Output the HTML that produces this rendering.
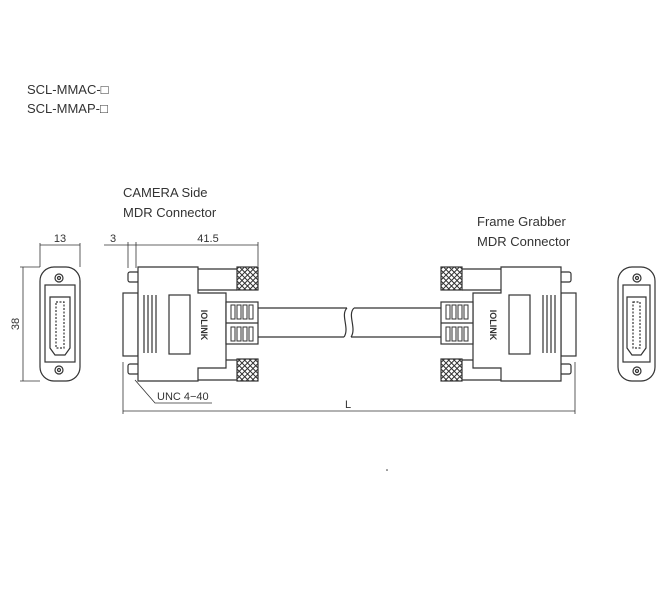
<!DOCTYPE html>
<html><head><style>
html,body{margin:0;padding:0;background:#fff;}
svg{display:block}
text{font-family:"Liberation Sans",sans-serif;fill:#333;}
</style></head><body>
<svg width="671" height="600" viewBox="0 0 671 600" xmlns="http://www.w3.org/2000/svg">
<defs>
<pattern id="kn" width="5.5" height="5.5" patternUnits="userSpaceOnUse">
<path d="M0,0L5.5,5.5M5.5,0L0,5.5" stroke="#333" stroke-width="1"/>
</pattern>
<g id="conn" fill="#fff" stroke="#333" stroke-width="1.2">
  <line x1="198" y1="269" x2="237" y2="269"/><line x1="198" y1="290" x2="237" y2="290"/>
  <line x1="198" y1="360" x2="237" y2="360"/><line x1="198" y1="380" x2="237" y2="380"/>
  <rect x="237" y="267" width="21" height="23" fill="url(#kn)"/>
  <rect x="237" y="359" width="21" height="22" fill="url(#kn)"/>
  <rect x="128" y="272" width="11" height="10" rx="2"/>
  <rect x="128" y="364" width="11" height="10" rx="2"/>
  <rect x="123" y="293" width="15" height="63"/>
  <path d="M138,267H198V293H226V368H198V381H138Z"/>
  <line x1="144" y1="295" x2="144" y2="353"/><line x1="148" y1="295" x2="148" y2="353"/>
  <line x1="152" y1="295" x2="152" y2="353"/><line x1="156" y1="295" x2="156" y2="353"/>
  <rect x="169" y="295" width="21" height="59"/>
  <rect x="226" y="302" width="32" height="42"/>
  <line x1="226" y1="323" x2="258" y2="323"/>
  <g stroke-width="1">
  <rect x="231" y="305" width="4" height="14"/><rect x="237" y="305" width="4" height="14"/><rect x="243" y="305" width="4" height="14"/><rect x="249" y="305" width="4" height="14"/>
  <rect x="231" y="327" width="4" height="14"/><rect x="237" y="327" width="4" height="14"/><rect x="243" y="327" width="4" height="14"/><rect x="249" y="327" width="4" height="14"/>
  </g>
</g>
</defs>

<text x="27" y="94" font-size="13">SCL-MMAC-□</text>
<text x="27" y="113" font-size="13">SCL-MMAP-□</text>
<text x="123" y="197" font-size="13">CAMERA Side</text>
<text x="123" y="217" font-size="13">MDR Connector</text>
<text x="477" y="226" font-size="13">Frame Grabber</text>
<text x="477" y="246" font-size="13">MDR Connector</text>

<g stroke="#333" stroke-width="1.2" fill="none">
<line x1="258" y1="308" x2="347" y2="308"/><line x1="258" y1="337" x2="344" y2="337"/>
<path d="M347,308C340,315 350,328 344,337"/>
<path d="M354,308C347,315 357,328 351,337"/>
<line x1="354" y1="308" x2="441" y2="308"/><line x1="351" y1="337" x2="441" y2="337"/>
</g>

<use href="#conn"/>
<use href="#conn" transform="translate(699,0) scale(-1,1)"/>
<text transform="translate(201,325) rotate(90)" font-size="9" font-weight="bold" text-anchor="middle">IOLINK</text>
<text transform="translate(490,325) rotate(90)" font-size="9" font-weight="bold" text-anchor="middle">IOLINK</text>

<g fill="#fff" stroke="#333" stroke-width="1.2">
<rect x="40" y="267" width="40" height="114" rx="14"/>
<rect x="45" y="285" width="30" height="77"/>
<path d="M50,297H70V348L65,355H55L50,348Z"/>
<rect x="56" y="302" width="8" height="46" stroke-dasharray="2,1.5"/>
<circle cx="59" cy="278" r="4"/><circle cx="59" cy="278" r="1.5"/>
<circle cx="59" cy="370" r="4"/><circle cx="59" cy="370" r="1.5"/>

<rect x="618" y="267" width="37" height="114" rx="14"/>
<rect x="623" y="285" width="27" height="77"/>
<path d="M627,297H646V348L641,355H632L627,348Z"/>
<rect x="633" y="302" width="7" height="46" stroke-dasharray="2,1.5"/>
<circle cx="637" cy="278" r="4"/><circle cx="637" cy="278" r="1.5"/>
<circle cx="637" cy="371" r="4"/><circle cx="637" cy="371" r="1.5"/>
</g>

<g stroke="#333" stroke-width="0.8" fill="none">
<line x1="40" y1="243" x2="40" y2="267"/><line x1="80" y1="243" x2="80" y2="267"/>
<line x1="40" y1="245" x2="80" y2="245"/>
<line x1="20" y1="267" x2="40" y2="267"/><line x1="20" y1="381" x2="40" y2="381"/>
<line x1="23" y1="267" x2="23" y2="381"/>
<line x1="128" y1="242" x2="128" y2="268"/><line x1="136" y1="242" x2="136" y2="268"/><line x1="258" y1="242" x2="258" y2="266"/>
<line x1="104" y1="245" x2="258" y2="245"/>
<line x1="123" y1="362" x2="123" y2="414"/><line x1="575" y1="362" x2="575" y2="414"/>
<line x1="123" y1="411" x2="575" y2="411"/>
<polyline points="135,380 155,403 212,403"/>
</g>
<text x="60" y="242" font-size="11" text-anchor="middle">13</text>
<text transform="translate(19,324) rotate(-90)" font-size="11" text-anchor="middle">38</text>
<text x="113" y="242" font-size="11" text-anchor="middle">3</text>
<text x="208" y="242" font-size="11" text-anchor="middle">41.5</text>
<text x="157" y="400" font-size="11">UNC 4−40</text>
<text x="348" y="408" font-size="11" text-anchor="middle">L</text>
<circle cx="387" cy="470" r="0.8" fill="#333"/>
</svg>
</body></html>
